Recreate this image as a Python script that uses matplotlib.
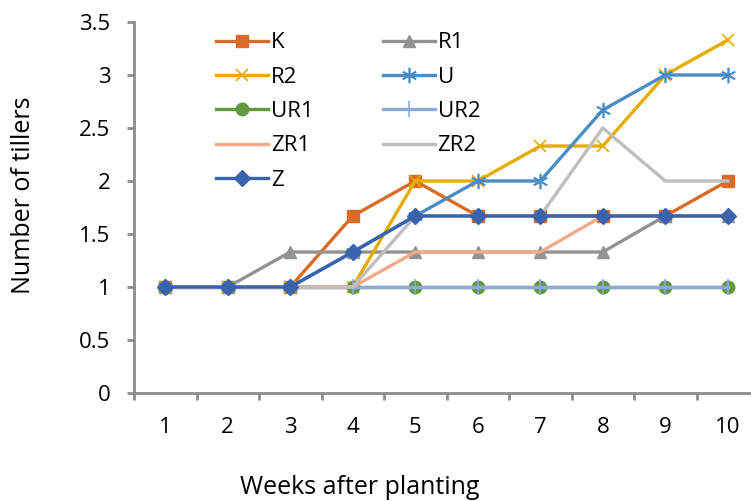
import matplotlib.pyplot as plt
import numpy as np

weeks = [1, 2, 3, 4, 5, 6, 7, 8, 9, 10]
K = [1, 1, 1, 1.67, 2, 1.67, 1.67, 1.67, 1.67, 2]
R1 = [1, 1, 1.33, 1.33, 1.33, 1.33, 1.33, 1.33, 1.67, 1.67]
R2 = [1, 1, 1, 1, 2, 2, 2.33, 2.33, 3, 3.33]
U = [1, 1, 1, 1.33, 1.67, 2, 2, 2.67, 3, 3]
UR1 = [1, 1, 1, 1, 1, 1, 1, 1, 1, 1]
UR2 = [1, 1, 1, 1, 1, 1, 1, 1, 1, 1]
ZR1 = [1, 1, 1, 1, 1.33, 1.33, 1.33, 1.67, 1.67, 1.67]
ZR2 = [1, 1, 1, 1, 1.67, 1.67, 1.67, 2.5, 2, 2]
Z = [1, 1, 1, 1.33, 1.67, 1.67, 1.67, 1.67, 1.67, 1.67]

plt.rcParams['font.family'] = 'Open Sans'

fig = plt.figure(figsize=(7.51, 5.01), dpi=100)
ax = fig.add_axes([134 / 751, 108 / 501, 625 / 751, 371 / 501])

lw = 2.4
ax.plot(weeks, K, color='#D96B27', lw=lw, marker='s', ms=8.5, label='K')
ax.plot(weeks, R1, color='#929292', lw=lw, marker='^', ms=9, label='R1')
ax.plot(weeks, R2, color='#E6AC00', lw=lw, marker='x', ms=9, mew=1.2, label='R2')
ax.plot(weeks, U, color='#4A8CC6', lw=lw, marker=(6, 2, 0), ms=11, mew=1.2, label='U')
ax.plot(weeks, UR1, color='#62993E', lw=lw, marker='o', ms=9, label='UR1')
ax.plot(weeks, UR2, color='#8EA9DB', lw=lw, marker='|', ms=11, mew=1.2, label='UR2')
ax.plot(weeks, ZR1, color='#F4A98A', lw=lw, label='ZR1')
ax.plot(weeks, ZR2, color='#BEBEBE', lw=lw, label='ZR2')
ax.plot(weeks, Z, color='#3A63AD', lw=lw, marker='D', ms=8.5, label='Z')

ax.set_xlim(0.5, 10.5)
ax.set_ylim(0, 3.5)
ax.set_yticks(np.arange(0, 3.51, 0.5))
ax.set_yticklabels(['0', '0.5', '1', '1.5', '2', '2.5', '3', '3.5'])
ax.set_xticks(np.arange(0.5, 10.5, 1))
ax.set_xticklabels([])
ax.set_xticks(weeks, minor=True)
ax.set_xticklabels([str(w) for w in weeks], minor=True)

spine_col = '#8C8C8C'
for s in ['top', 'right']:
    ax.spines[s].set_visible(False)
for s in ['left', 'bottom']:
    ax.spines[s].set_color(spine_col)
    ax.spines[s].set_linewidth(2)
ax.tick_params(axis='both', which='major', color=spine_col, width=2, length=5,
               labelsize=16)
ax.tick_params(axis='y', pad=12)
ax.tick_params(axis='x', which='minor', length=0, pad=17, labelsize=16)

h, l = ax.get_legend_handles_labels()
order = [0, 2, 4, 6, 8, 1, 3, 5, 7]
ax.legend([h[i] for i in order], [l[i] for i in order], ncol=2, frameon=False,
          fontsize=16, handlelength=2.35, handletextpad=0.12, columnspacing=3.12,
          labelspacing=0.6, borderpad=0.2, loc='upper left',
          bbox_to_anchor=(0.106, 1.014))

fig.text(360 / 751, 7 / 501, 'Weeks after planting', fontsize=18,
         ha='center', va='baseline')
fig.text(24 / 751, 306 / 501, 'Number of tillers', fontsize=18,
         ha='center', va='center', rotation=90)

fig.savefig('out.png', dpi=100)
